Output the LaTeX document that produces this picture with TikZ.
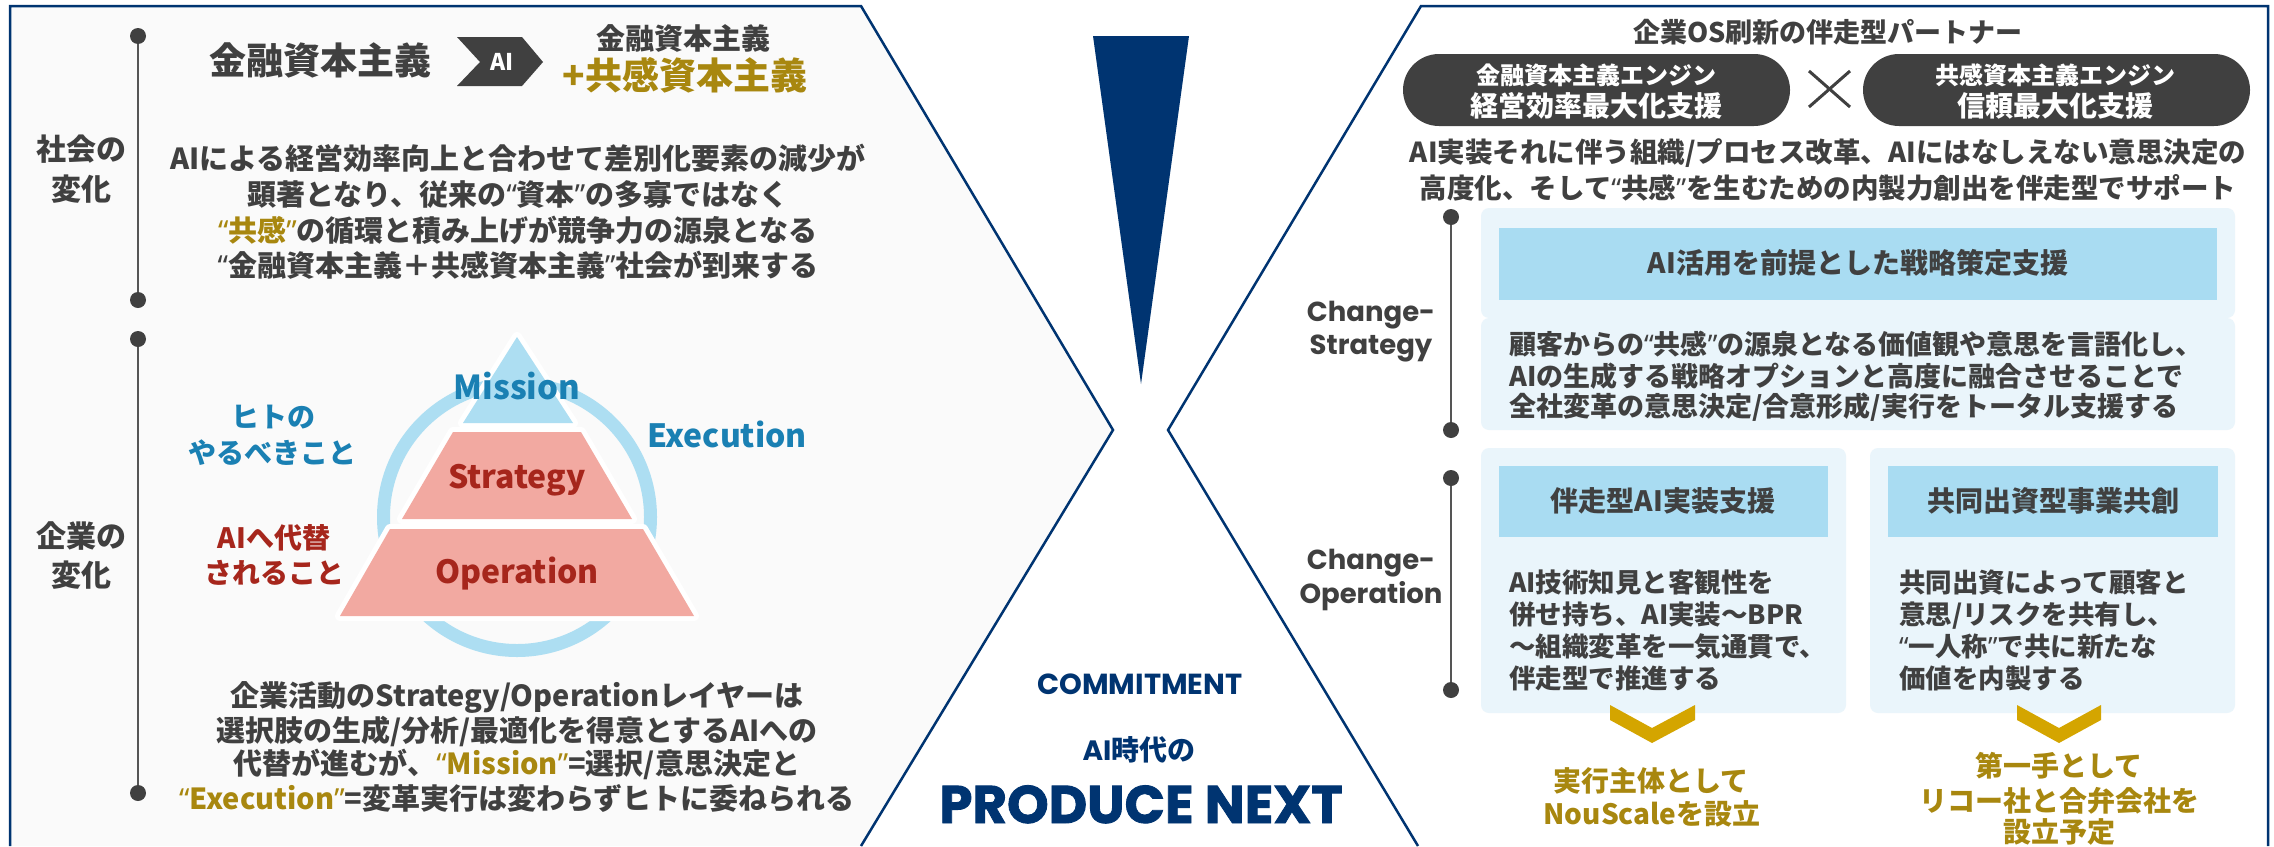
\documentclass[tikz,border=0pt]{standalone}
\usepackage{fontspec}
\newfontfamily\jp{Noto Sans CJK JP}
\newfontfamily\pop{Poppins}
\newfontfamily\popx{Poppins}[BoldFeatures={FakeBold=1.6}]
\newfontfamily\lat{Noto Sans}
\newcommand\oq{{\lat“}}
\newcommand\cq{{\lat”}}
\newcommand\fsz[1]{\fontsize{#1}{#1}\selectfont}
\definecolor{navy}{HTML}{003471}
\definecolor{txt}{HTML}{404040}
\definecolor{gold}{HTML}{A8870F}
\definecolor{goldc}{HTML}{D4A500}
\definecolor{bluet}{HTML}{1A80B3}
\definecolor{redt}{HTML}{A6261C}
\definecolor{lb}{HTML}{ADDEF2}
\definecolor{pinkc}{HTML}{F2A9A1}
\definecolor{pale}{HTML}{EAF5FB}
\definecolor{hdr}{HTML}{A9DCF2}
\definecolor{panel}{HTML}{FAFAFA}
\definecolor{tline}{HTML}{555555}
\begin{document}
\begin{tikzpicture}[x=1pt,y=-1pt,
  jp/.style={font=\jp\bfseries\fsz{#1},anchor=base,inner sep=0pt,text=txt},
  popt/.style={font=\pop\bfseries\fsz{#1},anchor=base,inner sep=0pt,text=navy},
  dot/.style={circle,fill=txt,minimum size=16pt,inner sep=0pt},
  tl/.style={draw=tline,line width=2pt},
  border/.style={draw=navy,line width=2.5pt,line join=miter},
  palebox/.style={fill=pale,rounded corners=8pt},
  pill/.style={fill=txt,rounded corners=36pt},
  chev/.style={fill=goldc},
  gap/.style={draw=white,line width=10pt,line join=round}
]
\useasboundingbox (0,0) rectangle (2274,846);
\fill[white] (0,0) rectangle (2274,846);

% ---------- panels ----------
\fill[panel] (10,6) -- (861,6) -- (1113,430) -- (861,846) -- (10,846) -- cycle;
\draw[border] (10,846) -- (10,6) -- (861,6) -- (1113,430) -- (861,846);
\draw[border] (1418,846) -- (1168,430) -- (1421,6) -- (2268,6) -- (2268,846);

% ---------- left timeline ----------
\node[dot] (d1) at (138,36) {};
\node[dot] (d2) at (138,300) {};
\node[dot] (d3) at (138,339) {};
\node[dot] (d4) at (138,793) {};
\draw[tl] (d1) -- (d2);
\draw[tl] (d3) -- (d4);

\node[jp=30] (sh1) at (81,160) {社会の};
\node[jp=30] (sh2) at (81,200) {変化};
\node[jp=30] (ki1) at (81,547) {企業の};
\node[jp=30] (ki2) at (81,586) {変化};

% ---------- top formula ----------
\node[jp=37] (fin) at (320,74) {金融資本主義};
\fill[txt] (457,37) -- (522,37) -- (543,62) -- (522,86) -- (457,86) -- (480,62) -- cycle;
\node[jp=23,text=white] (aic) at (502,70) {AI};
\node[jp=29] (fin2) at (683,49) {金融資本主義};
\node[jp=37,text=gold] (emp) at (685,89) {+共感資本主義};

\node[jp=29] (p1) at (518,169) {AIによる経営効率向上と合わせて差別化要素の減少が};
\node[jp=29] (p2) at (518,205) {顕著となり、従来の\oq 資本\cq の多寡ではなく};
\node[jp=29] (p3) at (518,241) {\textcolor{gold}{\oq 共感\cq}の循環と積み上げが競争力の源泉となる};
\node[jp=29] (p4) at (518,276) {\oq 金融資本主義＋共感資本主義\cq 社会が到来する};

% ---------- pyramid ----------
\draw[lb,line width=13pt] (517,517) circle[radius=133.5pt];
\draw[gap] (517,337) -- (573,423) -- (463,423) -- cycle;
\draw[gap] (453,432) -- (581,432) -- (632,519) -- (402,519) -- cycle;
\draw[gap] (390,529) -- (643,529) -- (694,616) -- (340,616) -- cycle;
\fill[lb] (517,337) -- (573,423) -- (463,423) -- cycle;
\fill[pinkc] (453,432) -- (581,432) -- (632,519) -- (402,519) -- cycle;
\fill[pinkc] (390,529) -- (643,529) -- (694,616) -- (340,616) -- cycle;
\node[jp=33,text=bluet] (mis) at (517,399) {Mission};
\node[jp=32,text=redt] (str) at (517,488) {Strategy};
\node[jp=32,text=redt] (ope) at (517,583) {Operation};
\node[jp=32,text=bluet] (exe) at (727,447) {Execution};
\node[jp=28,text=bluet] (h1) at (273,427) {ヒトの};
\node[jp=28,text=bluet] (h2) at (272,463) {やるべきこと};
\node[jp=28,text=redt] (a1) at (274,548) {AIへ代替};
\node[jp=28,text=redt] (a2) at (274,583) {されること};

\node[jp=29] (q1) at (517,706) {企業活動のStrategy/Operationレイヤーは};
\node[jp=29] (q2) at (517,741) {選択肢の生成/分析/最適化を得意とするAIへの};
\node[jp=29] (q3) at (517,774) {代替が進むが、\textcolor{gold}{\oq Mission\cq}=選択/意思決定と};
\node[jp=29] (q4) at (517,809) {\textcolor{gold}{\oq Execution\cq}=変革実行は変わらずヒトに委ねられる};

% ---------- middle ----------
\fill[navy] (1093,36) -- (1189,36) -- (1141,384) -- cycle;
\node[popt=29] (cm) at (1140,694) {COMMITMENT};
\node[jp=28,text=navy] (aij) at (1139,760) {{\pop AI}時代の};
\node[popt=53,font=\popx\bfseries\fsz{53}] (pn) at (1141,823) {PRODUCE NEXT};

% ---------- right panel ----------
\node[jp=27] (rt) at (1828,42) {企業OS刷新の伴走型パートナー};
\fill[pill] (1403,54) rectangle (1790,126);
\fill[pill] (1863,54) rectangle (2250,126);
\node[jp=24,text=white] (e1a) at (1596,84) {金融資本主義エンジン};
\node[jp=28,text=white] (e1b) at (1596,116) {経営効率最大化支援};
\node[jp=24,text=white] (e2a) at (2055,84) {共感資本主義エンジン};
\node[jp=28,text=white] (e2b) at (2055,116) {信頼最大化支援};
\draw[txt,line width=3pt] (1809,71) -- (1850,107);
\draw[txt,line width=3pt] (1809,107) -- (1850,71);
\node[jp=27.5] (r1) at (1828,162) {AI実装それに伴う組織/プロセス改革、AIにはなしえない意思決定の};
\node[jp=27.5] (r2) at (1828,198) {高度化、そして\oq 共感\cq を生むための内製力創出を伴走型でサポート};

\node[dot] (e1) at (1451,217) {};
\node[dot] (e2) at (1451,430) {};
\node[dot] (e3) at (1451,478) {};
\node[dot] (e4) at (1451,690) {};
\draw[tl] (e1) -- (e2);
\draw[tl] (e3) -- (e4);
\node[popt=27.5,text=txt] (cs1) at (1371,321) {Change-};
\node[popt=27.5,text=txt] (cs2) at (1371,354) {Strategy};
\node[popt=27.5,text=txt] (co1) at (1371,569) {Change-};
\node[popt=27.5,text=txt] (co2) at (1371,603) {Operation};

\fill[palebox] (1481,208) rectangle (2235,318);
\fill[palebox] (1481,318) rectangle (2235,430);
\fill[hdr] (1499,228) rectangle (2217,300);
\node[jp=28] (sh) at (1858,273.5) {AI活用を前提とした戦略策定支援};
\node[jp=27,anchor=base west] (s1) at (1509,354) {顧客からの\oq 共感\cq の源泉となる価値観や意思を言語化し、};
\node[jp=27,anchor=base west] (s2) at (1509,386) {AIの生成する戦略オプションと高度に融合させることで};
\node[jp=27,anchor=base west] (s3) at (1509,416) {全社変革の意思決定/合意形成/実行をトータル支援する};

\fill[palebox] (1481,448) rectangle (1846,713);
\fill[palebox] (1870,448) rectangle (2235,713);
\fill[hdr] (1499,466) rectangle (1828,537);
\fill[hdr] (1888,466) rectangle (2218,537);
\node[jp=28] (lh) at (1663,511.5) {伴走型AI実装支援};
\node[jp=28] (rh) at (2053,511.5) {共同出資型事業共創};
\node[jp=26.5,anchor=base west] (l1) at (1509,592) {AI技術知見と客観性を};
\node[jp=26.5,anchor=base west] (l2) at (1509,624) {併せ持ち、AI実装〜BPR};
\node[jp=26.5,anchor=base west] (l3) at (1509,656) {〜組織変革を一気通貫で、};
\node[jp=26.5,anchor=base west] (l4) at (1509,688) {伴走型で推進する};
\node[jp=26.5,anchor=base west] (m1) at (1899,592) {共同出資によって顧客と};
\node[jp=26.5,anchor=base west] (m2) at (1899,624) {意思/リスクを共有し、};
\node[jp=26.5,anchor=base west] (m3) at (1899,656) {\oq 一人称\cq で共に新たな};
\node[jp=26.5,anchor=base west] (m4) at (1899,688) {価値を内製する};

\fill[chev] (1610,705) -- (1610,720) -- (1652,743) -- (1695,720) -- (1695,705) -- (1652,728) -- cycle;
\fill[chev] (2017,705) -- (2017,720) -- (2059,743) -- (2101,720) -- (2101,705) -- (2059,728) -- cycle;
\node[jp=28,text=gold] (g1) at (1651,791) {実行主体として};
\node[jp=28,text=gold] (g2) at (1652,824) {NouScaleを設立};
\node[jp=28,text=gold] (g3) at (2059,776) {第一手として};
\node[jp=28,text=gold] (g4) at (2059,811) {リコー社と合弁会社を};
\node[jp=28,text=gold] (g5) at (2059,842) {設立予定};
\end{tikzpicture}
\end{document}
